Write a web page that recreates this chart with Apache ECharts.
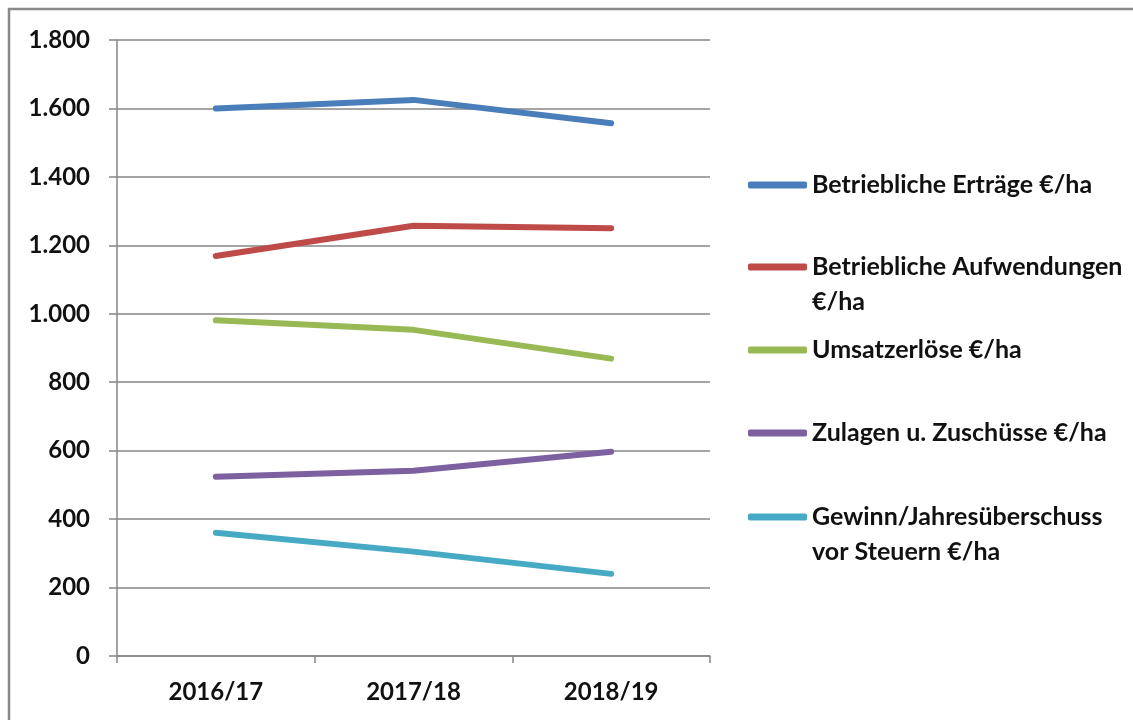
<!DOCTYPE html>
<html>
<head>
<meta charset="utf-8">
<script src="https://cdn.jsdelivr.net/npm/echarts@6/dist/echarts.min.js"></script>
<style>
  html, body { margin: 0; padding: 0; background: #fff; }
  #chart { width: 1133px; height: 720px; }
</style>
</head>
<body>
<div id="chart"></div>
<script>
const years = ['2016/17', '2017/18', '2018/19']
const seriesNames = [
  'Betriebliche Erträge €/ha',
  'Betriebliche Aufwendungen €/ha',
  'Umsatzerlöse €/ha',
  'Zulagen u. Zuschüsse €/ha',
  'Gewinn/Jahresüberschuss vor Steuern €/ha'
]
// legend text as printed (line breaks)
const legendLabels = [
  'Betriebliche Erträge €/ha',
  'Betriebliche Aufwendungen\n€/ha',
  'Umsatzerlöse €/ha',
  'Zulagen u. Zuschüsse €/ha',
  'Gewinn/Jahresüberschuss\nvor Steuern €/ha'
]
const ertraege = [1600, 1625, 1557]
const aufwendungen = [1169, 1257, 1250]
const umsatz = [981, 953, 869]
const zulagen = [524, 541, 597]
const gewinn = [360, 305, 240]
const seriesValues = [ertraege, aufwendungen, umsatz, zulagen, gewinn]
const colors = ['#4a7ebb', '#be4b48', '#98b954', '#7d60a0', '#46aac5']

const font = 'Lato'
const fs = 24
const legendY = [185, 267, 350, 433, 517]
const lh = 35

const chart = echarts.init(document.getElementById('chart'))

// one legend per item so each can sit where the original has it;
// two-line labels get an empty leading line so the icon lines up with line one
const legends = seriesNames.map((name, i) => {
  const multi = legendLabels[i].indexOf('\n') >= 0
  return {
    data: [name],
    orient: 'vertical',
    left: 748,
    top: multi ? legendY[i] - lh * 1.5 : legendY[i] - lh / 2,
    padding: 0,
    itemWidth: 59,
    itemHeight: 7,
    icon: 'roundRect',
    selectedMode: false,
    formatter: () => multi ? ' \n' + legendLabels[i] : legendLabels[i],
    textStyle: {
      fontFamily: font,
      fontWeight: 'bold',
      fontSize: 25,
      color: '#111',
      lineHeight: lh
    }
  }
})

chart.setOption({
  animation: false,
  color: colors,
  graphic: [{
    type: 'rect',
    shape: { x: 9, y: 9, width: 1300, height: 900 },
    style: { fill: 'none', stroke: '#8a8a8a', lineWidth: 2.5 },
    silent: true
  }],
  legend: legends,
  grid: { left: 117, right: 423, top: 40, bottom: 64 },
  xAxis: {
    type: 'category',
    data: years,
    boundaryGap: true,
    axisLine: { lineStyle: { color: '#868686', width: 1.5 } },
    axisTick: { show: true, length: 7, lineStyle: { color: '#868686', width: 1.5 } },
    axisLabel: { fontFamily: font, fontWeight: 'bold', fontSize: fs, color: '#111', margin: 24 }
  },
  yAxis: {
    type: 'value',
    min: 0,
    max: 1800,
    interval: 200,
    axisLine: { show: true, lineStyle: { color: '#868686', width: 1.5 } },
    axisTick: { show: true, length: 8, lineStyle: { color: '#868686', width: 1.5 } },
    splitLine: { lineStyle: { color: '#868686', width: 1.5 } },
    axisLabel: {
      fontFamily: font, fontWeight: 'bold', fontSize: fs, color: '#111', margin: 27,
      formatter: v => String(v).replace(/\B(?=(\d{3})+(?!\d))/g, '.')
    }
  },
  series: seriesNames.map((name, i) => ({
    name,
    type: 'line',
    data: seriesValues[i],
    symbol: 'none',
    lineStyle: { width: 6, cap: 'round', join: 'round', color: colors[i] },
    itemStyle: { color: colors[i] }
  }))
})
</script>
</body>
</html>
